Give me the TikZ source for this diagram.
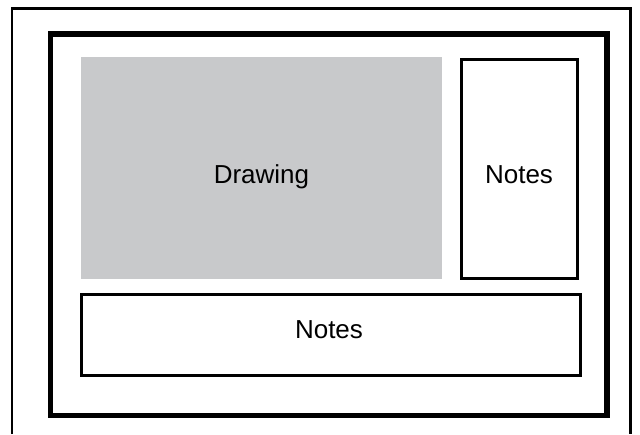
\documentclass[tikz,border=0pt]{standalone}
\usepackage{fontspec}
\setmainfont{Liberation Sans}
\definecolor{drawgray}{HTML}{C8C9CB}
\begin{document}
\begin{tikzpicture}[x=1pt,y=-1pt,
  frameline/.style={line width=2.4pt,draw=black},
  thickframe/.style={line width=5.5pt,draw=black},
  notebox/.style={rectangle,draw=black,line width=3pt,inner sep=0pt},
  drawbox/.style={rectangle,fill=drawgray,inner sep=0pt},
  lbl/.style={anchor=base,inner sep=0pt,font=\fontsize{26}{30}\selectfont}]
\useasboundingbox (0,0) rectangle (640,434);
\fill[white] (0,0) rectangle (640,434);
% outer frame (open at bottom)
\draw[frameline] (12,434) -- (12,8.3) -- (630.5,8.3) -- (630.5,434);
% inner thick frame
\draw[thickframe] (50.5,34) rectangle (607,415.5);
% boxes
\node[drawbox,minimum width=361pt,minimum height=222pt] (drawing) at (261.5,168) {};
\node[notebox,minimum width=116pt,minimum height=219pt] (notesR) at (519,168.5) {};
\node[notebox,minimum width=499pt,minimum height=81pt] (notesB) at (330.5,334.5) {};
% labels
\node[lbl] (tDrawing) at (261.5,183) {Drawing};
\node[lbl] (tNotesR) at (519,183) {Notes};
\node[lbl] (tNotesB) at (329,338) {Notes};
\end{tikzpicture}
\end{document}
